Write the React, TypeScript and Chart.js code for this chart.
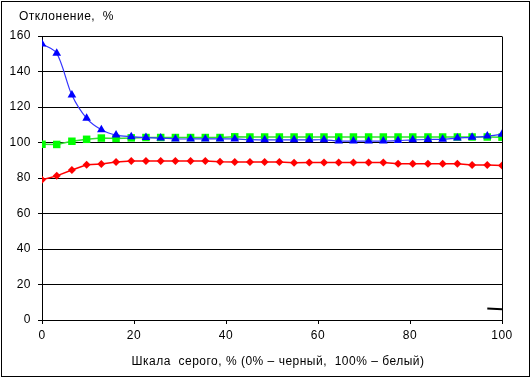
import React, { useEffect, useRef } from "react";
import { Chart, registerables } from "chart.js";

Chart.register(...registerables);

const xValues = [0, 3.2, 6.5, 9.7, 12.9, 16.1, 19.4, 22.6, 25.8, 29.0, 32.3, 35.5, 38.7, 41.9, 45.2, 48.4, 51.6, 54.8, 58.1, 61.3, 64.5, 67.7, 71.0, 74.2, 77.4, 80.6, 83.9, 87.1, 90.3, 93.5, 96.8, 100];
const blueValues = [155.5, 150.3, 126.7, 113.6, 107.2, 104.2, 103.3, 102.8, 102.5, 102.0, 102.0, 102.0, 102.0, 102.0, 101.6, 101.5, 101.5, 101.5, 101.5, 101.5, 100.8, 100.8, 100.8, 100.8, 101.1, 101.5, 101.7, 101.8, 102.5, 102.9, 103.6, 104.7];
const greenValues = [99.0, 98.9, 100.7, 101.8, 102.5, 102.3, 102.6, 102.8, 102.8, 102.8, 102.8, 102.8, 102.8, 103.2, 103.1, 103.1, 103.1, 103.1, 103.1, 103.1, 103.1, 103.1, 103.1, 103.1, 103.1, 103.1, 103.1, 103.1, 103.1, 103.1, 103.1, 103.0];
const redValues = [79.0, 81.2, 84.5, 87.5, 87.9, 89.0, 89.6, 89.6, 89.6, 89.6, 89.6, 89.6, 89.2, 89.0, 89.0, 89.0, 89.0, 88.6, 88.7, 88.7, 88.7, 88.7, 88.7, 88.7, 88.0, 88.0, 88.0, 88.0, 88.0, 87.3, 87.3, 87.0];
const blackX = [96.8, 100];
const blackValues = [6.5, 6.0];

const yTitle = "Отклонение,  %";
const xTitle = "Шкала  серого, % (0% – черный,  100% – белый)";

const FONT = '"Liberation Sans", Arial, sans-serif';

const toPoints = (xs: number[], ys: number[]) => ys.map((y, i) => ({ x: xs[i], y }));

export default function App() {
  const ref = useRef<HTMLCanvasElement | null>(null);
  useEffect(() => {
    if (!ref.current) return;
    const decor = {
      id: "decor",
      beforeDraw(chart: any) {
        const ctx = chart.ctx;
        ctx.letterSpacing = "0.5px";
        ctx.fillStyle = "#ffffff";
        ctx.fillRect(0, 0, chart.width, chart.height);
      },
      afterDraw(chart: any) {
        const ctx = chart.ctx;
        const a = chart.chartArea;
        ctx.save();
        ctx.strokeStyle = "#000000";
        ctx.lineWidth = 1;
        ctx.beginPath();
        ctx.moveTo(Math.round(a.right) + 0.5, Math.round(a.top) + 0.5);
        ctx.lineTo(Math.round(a.right) + 0.5, Math.round(a.bottom) + 0.5);
        ctx.stroke();
        ctx.strokeRect(1.5, 1.5, 528, 375);
        ctx.fillStyle = "#000000";
        ctx.font = "12px " + FONT;
        ctx.letterSpacing = "0.5px";
        ctx.textBaseline = "alphabetic";
        ctx.textAlign = "left";
        ctx.fillText(yTitle, 19, 20);
        ctx.textAlign = "center";
        ctx.fillText(xTitle, 278, 365);
        ctx.restore();
      },
    };
    const chart = new Chart(ref.current, {
      type: "line",
      data: {
        datasets: [
          {
            data: toPoints(xValues, blueValues),
            borderColor: "#3333ff",
            backgroundColor: "#0000ff",
            borderWidth: 1.2,
            pointStyle: "triangle",
            pointRadius: 5,
            pointBorderWidth: 0,
            tension: 0.3,
          },
          {
            data: toPoints(xValues, greenValues),
            borderColor: "#33dd33",
            backgroundColor: "#00ff00",
            borderWidth: 1.5,
            pointStyle: "rect",
            pointRadius: 5.3,
            pointBorderWidth: 0,
            tension: 0,
          },
          {
            data: toPoints(xValues, redValues),
            borderColor: "#ff0000",
            backgroundColor: "#ff0000",
            borderWidth: 1.5,
            pointStyle: "rectRot",
            pointRadius: 4,
            pointBorderWidth: 0,
            tension: 0,
          },
          {
            data: toPoints(blackX, blackValues),
            borderColor: "#000000",
            borderWidth: 2,
            pointRadius: 0,
            tension: 0,
          },
        ],
      },
      options: {
        animation: false,
        responsive: false,
        maintainAspectRatio: false,
        layout: { padding: { left: 0, top: 36, right: 29, bottom: 0 } },
        plugins: { legend: { display: false }, tooltip: { enabled: false }, title: { display: false } },
        scales: {
          x: {
            type: "linear",
            min: 0,
            max: 100,
            ticks: { stepSize: 20, color: "#000000", padding: 4, font: { family: FONT, size: 12 }, maxRotation: 0 },
            grid: { drawOnChartArea: false, drawTicks: true, tickLength: 4, color: "#000000" },
            border: { color: "#000000" },
            afterFit: (s: any) => { s.height = 58; },
          },
          y: {
            min: 0,
            max: 160,
            ticks: { stepSize: 20, color: "#000000", padding: 7, font: { family: FONT, size: 12 } },
            grid: { color: "#000000", tickLength: 4 },
            border: { color: "#000000" },
            afterFit: (s: any) => { s.width = 42; },
          },
        },
      },
      plugins: [decor],
    });
    return () => chart.destroy();
  }, []);
  return (
    <div style={{ position: "fixed", left: 0, top: 0, width: 531, height: 378, background: "#fff" }}>
      <canvas ref={ref} width={531} height={378} style={{ width: 531, height: 378, display: "block" }} />
    </div>
  );
}
